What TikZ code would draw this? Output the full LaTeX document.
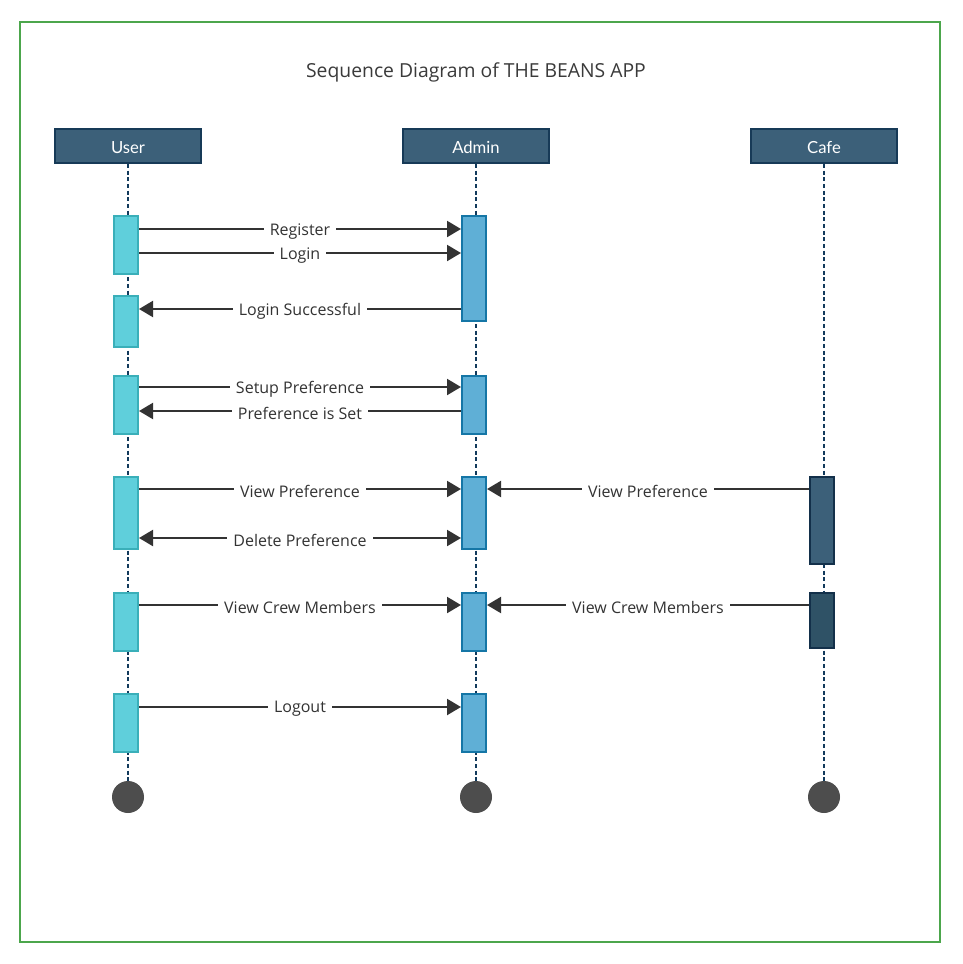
\documentclass[tikz,border=0pt]{standalone}
\usepackage{fontspec}
\setmainfont{Open Sans}
\newfontfamily\hdrfont{Lato}
\usetikzlibrary{arrows.meta}
\definecolor{frameg}{HTML}{4CA64C}
\definecolor{hdrfill}{HTML}{3C6079}
\definecolor{hdrline}{HTML}{173A57}
\definecolor{ufill}{HTML}{5FCFDB}
\definecolor{uline}{HTML}{3AAFB9}
\definecolor{afill}{HTML}{5FAFD6}
\definecolor{aline}{HTML}{1576A6}
\definecolor{cfill}{HTML}{3C6079}
\definecolor{cfilltwo}{HTML}{2F5266}
\definecolor{cline}{HTML}{13304A}
\definecolor{lifel}{HTML}{123A5C}
\definecolor{msgc}{HTML}{333333}
\definecolor{endc}{HTML}{4D4D4D}
\definecolor{txtc}{HTML}{3A3A3A}
\begin{document}
\begin{tikzpicture}[x=0.75pt,y=-0.75pt,
  hdr/.style={draw=hdrline,line width=1.5pt,fill=hdrfill,minimum width=109.5pt,minimum height=25.5pt,inner sep=0pt,text height=10.5pt,text depth=0pt,text=white,font=\hdrfont\fontsize{12.5}{15}\selectfont},
  act/.style={line width=1.5pt,minimum width=18pt,inner sep=0pt},
  uact/.style={act,draw=uline,fill=ufill},
  aact/.style={act,draw=aline,fill=afill},
  cact/.style={act,draw=cline,fill=cfill},
  life/.style={draw=lifel,line width=1.5pt,dash pattern=on 3pt off 2pt},
  msg/.style={draw=msgc,line width=1.6pt,-{Triangle[length=10.5pt,width=12pt]}},
  msgboth/.style={msg,{Triangle[length=10.5pt,width=12pt]}-{Triangle[length=10.5pt,width=12pt]}},
  lbl/.style={fill=white,text=msgc,inner xsep=4.5pt,inner ysep=2pt,yshift=-1.6pt,font=\fontsize{12}{14}\selectfont},
  endpt/.style={circle,fill=endc,minimum size=24pt,inner sep=0pt}
]
\useasboundingbox (0,0) rectangle (963,964);
\draw[frameg,line width=1.5pt] (20,22) rectangle (940,942);
\node[text=txtc,font=\fontsize{14.5}{17}\selectfont] (title) at (476,72) {Sequence Diagram of THE BEANS APP};
% headers
\node[hdr] (user) at (128,146) {User};
\node[hdr] (admin) at (476,146) {Admin};
\node[hdr] (cafe) at (824,146) {Cafe};
% end points
\node[endpt] (uend) at (128,797) {};
\node[endpt] (aend) at (476,797) {};
\node[endpt] (cend) at (824,797) {};
% lifelines
\draw[life] (user.south) -- (uend.north);
\draw[life] (admin.south) -- (aend.north);
\draw[life] (cafe.south) -- (cend.north);
% user activations
\node[uact,minimum height=43.5pt] (u1) at (126,245) {};
\node[uact,minimum height=38.25pt] (u2) at (126,321.5) {};
\node[uact,minimum height=43.5pt] (u3) at (126,405) {};
\node[uact,minimum height=54pt] (u4) at (126,513) {};
\node[uact,minimum height=43.5pt] (u5) at (126,622) {};
\node[uact,minimum height=43.5pt] (u6) at (126,723) {};
% admin activations
\node[aact,minimum height=78.75pt] (a1) at (474,268.5) {};
\node[aact,minimum height=43.5pt] (a3) at (474,405) {};
\node[aact,minimum height=54pt] (a4) at (474,513) {};
\node[aact,minimum height=43.5pt] (a5) at (474,622) {};
\node[aact,minimum height=43.5pt] (a6) at (474,723) {};
% cafe activations
\node[cact,minimum height=65.25pt] (c4) at (822,520.5) {};
\node[cact,fill=cfilltwo,minimum height=41.25pt] (c5) at (822,620.5) {};
% messages
\draw[msg] (u1.east |- 0,229) -- node[lbl]{Register} (a1.west |- 0,229);
\draw[msg] (u1.east |- 0,253) -- node[lbl]{Login} (a1.west |- 0,253);
\draw[msg] (a1.west |- 0,309) -- node[lbl]{Login Successful} (u2.east |- 0,309);
\draw[msg] (u3.east |- 0,387) -- node[lbl]{Setup Preference} (a3.west |- 0,387);
\draw[msg] (a3.west |- 0,411) -- node[lbl]{Preference is Set} (u3.east |- 0,411);
\draw[msg] (u4.east |- 0,489) -- node[lbl]{View Preference} (a4.west |- 0,489);
\draw[msg] (c4.west |- 0,489) -- node[lbl]{View Preference} (a4.east |- 0,489);
\draw[msgboth] (u4.east |- 0,538) -- node[lbl]{Delete Preference} (a4.west |- 0,538);
\draw[msg] (u5.east |- 0,605) -- node[lbl]{View Crew Members} (a5.west |- 0,605);
\draw[msg] (c5.west |- 0,605) -- node[lbl]{View Crew Members} (a5.east |- 0,605);
\draw[msg] (u6.east |- 0,707) -- node[lbl]{Logout} (a6.west |- 0,707);
\end{tikzpicture}
\end{document}
